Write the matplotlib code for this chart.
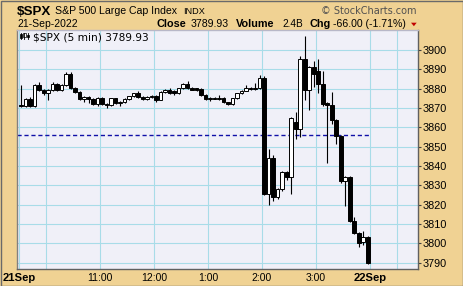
import matplotlib
matplotlib.use("Agg")
import matplotlib.pyplot as plt
from matplotlib.patches import Rectangle, Polygon
import numpy as np

plt.rcParams['font.family'] = ['Liberation Sans', 'DejaVu Sans']

# ---- data: 5-minute candles, 21-Sep-2022, 9:30 .. 16:00 (78 bars) ----
opens = [3871.4, 3871.0, 3874.6, 3871.1, 3882.0, 3879.5, 3877.6, 3879.6, 3882.4, 3879.6,
         3881.8, 3887.6, 3880.4, 3878.3, 3874.6, 3875.6, 3874.6, 3872.2, 3875.0, 3872.0,
         3871.7, 3875.0, 3872.6, 3873.3, 3874.6, 3876.1, 3877.7, 3875.6, 3874.5, 3875.9,
         3876.3, 3874.2, 3878.2, 3879.4, 3879.0, 3877.6, 3880.2, 3882.6, 3880.4, 3880.2,
         3880.0, 3876.8, 3874.8, 3875.2, 3874.9, 3875.4, 3872.9, 3872.1, 3875.0, 3877.6,
         3878.9, 3880.2, 3880.0, 3880.3, 3885.4, 3825.5, 3844.0, 3824.0, 3828.0, 3837.1,
         3834.5, 3863.0, 3859.0, 3895.3, 3879.6, 3891.5, 3889.4, 3882.4, 3872.6, 3871.6,
         3863.8, 3855.6, 3832.0, 3834.2, 3811.7, 3805.5, 3800.5, 3803.4]
highs = [3882.0, 3875.2, 3875.5, 3882.5, 3883.6, 3880.0, 3880.0, 3883.5, 3882.8, 3882.5,
         3888.8, 3888.6, 3881.0, 3879.0, 3876.2, 3876.0, 3875.4, 3875.5, 3875.6, 3872.6,
         3875.3, 3875.4, 3873.8, 3875.0, 3876.5, 3878.0, 3879.0, 3876.2, 3876.2, 3876.6,
         3876.6, 3878.6, 3879.8, 3880.2, 3879.4, 3880.5, 3883.0, 3883.8, 3880.8, 3880.6,
         3880.4, 3877.2, 3875.6, 3875.8, 3876.8, 3875.6, 3873.4, 3875.3, 3877.8, 3879.2,
         3882.0, 3880.8, 3882.8, 3887.0, 3886.8, 3849.0, 3845.5, 3828.5, 3837.6, 3837.6,
         3865.5, 3868.0, 3897.0, 3907.1, 3892.0, 3894.2, 3895.3, 3889.0, 3873.0, 3878.5,
         3864.2, 3856.0, 3834.6, 3834.6, 3813.5, 3806.0, 3806.5, 3803.8]
lows = [3870.5, 3870.5, 3870.8, 3870.8, 3879.0, 3877.0, 3874.0, 3879.0, 3879.0, 3879.0,
        3881.2, 3880.0, 3877.8, 3874.0, 3873.0, 3872.5, 3871.8, 3871.2, 3871.4, 3869.9,
        3871.2, 3872.2, 3871.0, 3872.5, 3874.0, 3875.5, 3875.3, 3874.2, 3874.0, 3875.3,
        3873.4, 3874.0, 3877.8, 3877.2, 3877.0, 3877.2, 3879.8, 3880.0, 3879.2, 3878.6,
        3876.4, 3874.4, 3873.8, 3874.6, 3874.4, 3872.6, 3871.4, 3871.5, 3874.6, 3877.2,
        3878.6, 3879.6, 3879.6, 3880.0, 3825.0, 3819.8, 3822.0, 3823.0, 3827.0, 3833.0,
        3825.5, 3854.0, 3855.0, 3874.2, 3869.2, 3881.0, 3878.0, 3871.0, 3841.7, 3862.0,
        3851.5, 3831.0, 3819.5, 3811.0, 3805.0, 3797.9, 3799.0, 3789.5]
closes = [3871.0, 3874.6, 3871.1, 3882.0, 3879.5, 3877.6, 3879.6, 3882.4, 3879.6, 3881.8,
          3887.6, 3880.4, 3878.3, 3874.6, 3875.6, 3874.6, 3872.2, 3875.0, 3872.0, 3871.7,
          3875.0, 3872.6, 3873.3, 3874.6, 3876.1, 3877.7, 3875.6, 3874.5, 3875.9, 3876.3,
          3874.2, 3878.2, 3879.4, 3877.6, 3877.6, 3880.2, 3882.6, 3880.4, 3879.4, 3879.2,
          3876.8, 3874.8, 3875.2, 3874.9, 3875.4, 3872.9, 3872.1, 3875.0, 3877.6, 3878.9,
          3880.2, 3880.0, 3880.3, 3885.4, 3825.5, 3844.0, 3824.0, 3828.0, 3837.1, 3834.5,
          3864.7, 3859.0, 3895.3, 3879.6, 3891.5, 3887.6, 3882.4, 3872.0, 3871.6, 3863.8,
          3855.6, 3832.0, 3834.2, 3811.7, 3805.5, 3800.3, 3803.4, 3789.93]
prev_close = 3855.93

x_tick_pos = [0, 18, 30, 42, 54, 66, 78]
x_tick_labels = ["21Sep", "11:00", "12:00", "1:00", "2:00", "3:00", "22Sep"]
x_minor_pos = [6, 84]
y_ticks = list(range(3790, 3901, 10))

# ---- style ----
TAN = '#F0D293'
PLOT_BG = '#F0F0F8'
GRID = '#A8DCE8'

W, H = 464, 286
fig = plt.figure(figsize=(W / 100, H / 100), dpi=100)
fig.patch.set_facecolor(TAN)

def fx(px):
    return px / W

def fy(py):
    return 1 - py / H

L, R, T, B = 17.5, 417.7, 29.5, 269.3
ax = fig.add_axes([fx(L), fy(B), (R - L) / W, (B - T) / H])
ax.set_facecolor(PLOT_BG)
ax.set_xlim(-0.33, 88.6)
ax.set_ylim(3786.5, 3910.7)

# grid
ax.set_xticks(x_tick_pos)
ax.set_xticklabels(x_tick_labels)
ax.set_xticks(x_minor_pos, minor=True)
ax.set_yticks(y_ticks)
ax.grid(True, which='both', color=GRID, lw=0.8, zorder=0)
ax.set_axisbelow(True)

# previous close line
ax.hlines(prev_close, -0.33, 78, colors='#1010A8', linestyles=(0, (3, 2)), lw=1.0, zorder=2)

# candles
o = np.array(opens); h = np.array(highs); l = np.array(lows); c = np.array(closes)
xs = np.arange(len(o)) + 0.5
ax.vlines(xs, l, h, colors='black', lw=0.8, zorder=3)
up = c >= o
bw = 0.78
ax.bar(xs[up], (c - o)[up], bottom=o[up], width=bw, color='white', edgecolor='black', lw=0.7, zorder=4)
ax.bar(xs[~up], (o - c)[~up], bottom=c[~up], width=bw, color='black', edgecolor='black', lw=0.7, zorder=4)

# axes styling
ax.yaxis.tick_right()
ax.tick_params(axis='y', which='both', direction='out', length=2, pad=1.5, colors='#404040',
               labelcolor='black', labelsize=7.8)
ax.tick_params(axis='x', which='both', length=0, pad=2.5, labelsize=7.5, labelcolor='black')
for lbl in ax.get_xticklabels():
    if 'Sep' in lbl.get_text():
        lbl.set_fontweight('bold')
        lbl.set_fontsize(8.1)
for side in ['right', 'bottom']:
    ax.spines[side].set_linestyle((0, (1, 1)))
    ax.spines[side].set_color('#606060')
    ax.spines[side].set_linewidth(1.0)
ax.spines['left'].set_color('#808080')
ax.spines['left'].set_linewidth(1.0)
ax.spines['top'].set_color('#B8B8C8')
ax.spines['top'].set_linewidth(1.0)

# in-plot title with small candle icon
ax.text(fx(32.7 - L) * W / (R - L), 1 - (40 - T) / (B - T), "$SPX (5 min) 3789.93",
        transform=ax.transAxes, ha='left', va='baseline', fontsize=7.6,
        family=['DejaVu Sans'], color='black', zorder=6)
icon = [(21.0, 33.0, 39.0, 34.5, 37.5, 'black'), (24.5, 32.5, 38.5, 33.5, 36.5, 'white'),
        (28.0, 33.5, 39.0, 34.5, 37.0, 'black')]
for (cx, top, bot, b1, b2, col) in icon:
    fig.lines.append(plt.Line2D([fx(cx), fx(cx)], [fy(top), fy(bot)], transform=fig.transFigure,
                                color='black', lw=0.6))
    fig.patches.append(Rectangle((fx(cx - 1.2), fy(b2)), 2.4 / W, (b2 - b1) / H, transform=fig.transFigure,
                                 facecolor=col, edgecolor='black', lw=0.5))

# header
fig.text(fx(17), fy(15), "$SPX", ha='left', va='baseline', fontsize=9.6, fontweight='bold')
fig.text(fx(55), fy(14), "S&P 500 Large Cap Index", ha='left', va='baseline', fontsize=7.55)
fig.text(fx(183), fy(14), "INDX", ha='left', va='baseline', fontsize=6.6)
fig.text(fx(417), fy(14), "\u00a9 StockCharts.com", ha='right', va='baseline', fontsize=7.0,
         color='#505050', family=['DejaVu Sans'])

fig.text(fx(17), fy(27.3), "21-Sep-2022", ha='left', va='baseline', fontsize=7.5)
fig.text(fx(157), fy(27.3), "Close", ha='left', va='baseline', fontsize=7.8, fontweight='bold')
fig.text(fx(191), fy(27.3), "3789.93", ha='left', va='baseline', fontsize=7.6)
fig.text(fx(236), fy(27.3), "Volume", ha='left', va='baseline', fontsize=7.8, fontweight='bold')
fig.text(fx(282), fy(27.3), "2.4B", ha='left', va='baseline', fontsize=7.2)
fig.text(fx(310), fy(27.3), "Chg", ha='left', va='baseline', fontsize=7.8, fontweight='bold')
fig.text(fx(333), fy(27.3), "-66.00 (-1.71%)", ha='left', va='baseline', fontsize=7.6)
fig.patches.append(Polygon([(fx(411), fy(22.7)), (fx(416.7), fy(22.7)), (fx(413.9), fy(26.2))],
                           closed=True, transform=fig.transFigure, facecolor='#C00000', edgecolor='none'))

# outer frame
fig.patches.append(Rectangle((0.5 / W, 0.5 / H), (W - 1) / W, (H - 1) / H, transform=fig.transFigure,
                             facecolor='none', edgecolor='#6A6A6A', lw=1.0))

fig.savefig("out.png", dpi=100, facecolor=TAN)
